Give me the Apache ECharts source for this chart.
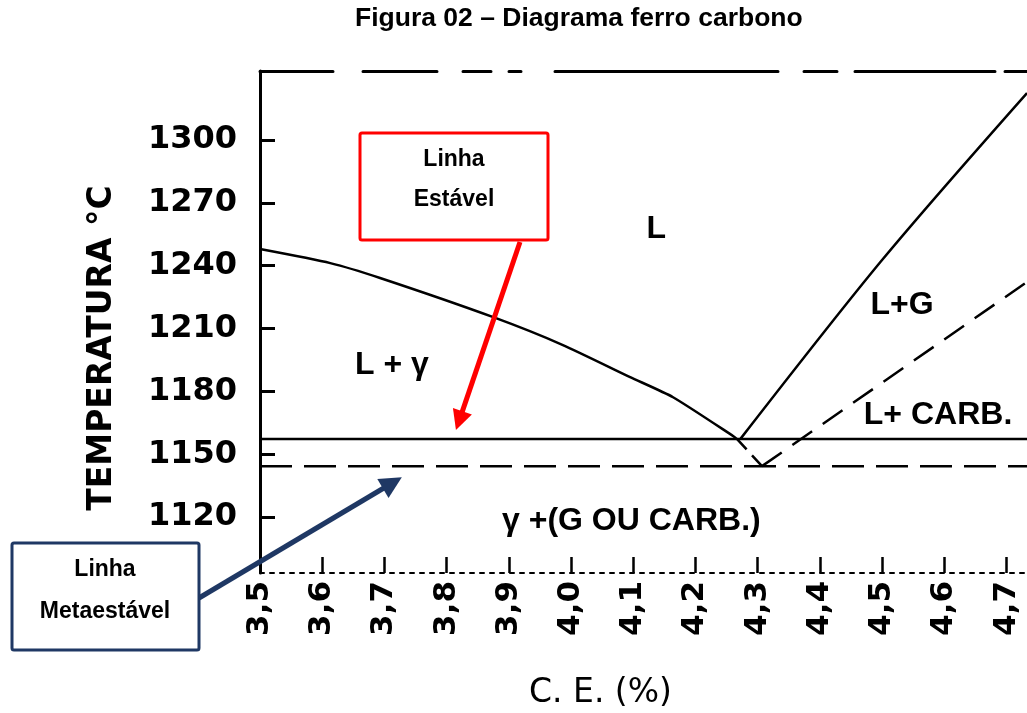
<!DOCTYPE html>
<html>
<head>
<meta charset="utf-8">
<script src="https://cdn.jsdelivr.net/npm/echarts@6/dist/echarts.min.js"></script>
<style>
html,body{margin:0;padding:0;background:#ffffff;}
#chart{width:1027px;height:713px;}
</style>
</head>
<body>
<div id="chart"></div>
<script>
// ---------- data ----------
const ceTicks = [3.5, 3.6, 3.7, 3.8, 3.9, 4.0, 4.1, 4.2, 4.3, 4.4, 4.5, 4.6, 4.7];
const tempTicks = [1120, 1150, 1180, 1210, 1240, 1270, 1300];
const ceRange = [3.5, 4.733];
const tempRange = [1093.3, 1332.9];

const stableEutecticT = 1157.2;      // Linha estável
const metastableEutecticT = 1144.3;  // Linha metaestável

const austeniteLiquidus = [
  [3.500, 1247.9], [3.613, 1241.2], [3.693, 1234.1], [3.875, 1215.4],
  [3.987, 1202.1], [4.095, 1186.8], [4.164, 1177.2], [4.261, 1158.6], [4.267, 1157.2]
];
const graphiteLiquidus = [[4.272, 1157.2], [4.500, 1242.7], [4.733, 1322.4]];
const metastableLiquidusExt = [[4.267, 1157.2], [4.307, 1144.3]];
const cementiteLiquidus = [[4.307, 1144.3], [4.733, 1232.2]];

const regionNames = ['L', 'L + γ', 'L+G', 'L+ CARB.', 'γ +(G OU CARB.)'];
const regionCE = [4.137, 3.712, 4.532, 4.590, 4.097];
const regionT = [1257.5, 1192.5, 1221.2, 1168.7, 1118.1];

const stableArrowTarget = [3.815, 1161.5];
const metastableArrowTarget = [3.728, 1139.0];

// ---------- chart ----------
const chart = echarts.init(document.getElementById('chart'), null, {renderer: 'canvas'});

const stableLine = [[ceRange[0], stableEutecticT], [ceRange[1], stableEutecticT]];
const metastableLine = [[ceRange[0], metastableEutecticT], [ceRange[1], metastableEutecticT]];
const regionData = regionNames.map((n, i) => ({name: n, value: [regionCE[i], regionT[i]]}));

const ink = '#000000';
const solid = {color: ink, width: 2.5, type: 'solid'};

const option = {
  animation: false,
  backgroundColor: '#ffffff',
  textStyle: {fontFamily: 'DejaVu Sans', color: ink},
  title: {
    text: 'Figura 02 – Diagrama ferro carbono',
    left: 355,
    top: 5,
    padding: 0,
    textStyle: {fontFamily: 'Liberation Sans', fontWeight: 'bold', fontSize: 26.5, color: ink}
  },
  grid: {left: 260, right: 0, top: 71, bottom: 140, containLabel: false, outerBoundsMode: 'none'},
  xAxis: [{
    type: 'value',
    position: 'bottom',
    min: ceRange[0], max: ceRange[1],
    name: 'C. E. (%)',
    nameLocation: 'middle',
    nameGap: 104,
    nameTextStyle: {fontFamily: 'DejaVu Sans', fontSize: 33, color: ink, padding: [0, 86, 0, 0]},
    axisLine: {show: true, lineStyle: {color: ink, width: 2, type: [4, 6]}},
    axisTick: {show: true, inside: true, length: 16, lineStyle: {color: ink, width: 2.5}, customValues: ceTicks},
    axisLabel: {
      show: true, rotate: 90, margin: 8, customValues: ceTicks,
      fontFamily: 'DejaVu Sans', fontWeight: 'bold', fontSize: 31, color: ink,
      formatter: v => Number(v).toFixed(1).replace('.', ',')
    },
    splitLine: {show: false}
  }, {
    type: 'value',
    position: 'top',
    min: ceRange[0], max: ceRange[1],
    axisLine: {show: true, lineStyle: {color: ink, width: 3, type: [73, 30, 74, 26, 28, 18, 12, 34, 223, 26, 33, 18, 140, 10]}},
    axisTick: {show: false},
    axisLabel: {show: false},
    splitLine: {show: false}
  }],
  yAxis: {
    type: 'value',
    position: 'left',
    min: tempRange[0], max: tempRange[1],
    name: 'TEMPERATURA °C',
    nameLocation: 'middle',
    nameRotate: 90,
    nameGap: 141,
    nameTextStyle: {fontFamily: 'DejaVu Sans', fontWeight: 'bold', fontSize: 33, color: ink, padding: [0, 52, 0, 0]},
    axisLine: {show: true, lineStyle: {color: ink, width: 3}},
    axisTick: {show: true, inside: true, length: 15, lineStyle: {color: ink, width: 3}, customValues: tempTicks},
    axisLabel: {
      show: true, margin: 23, customValues: tempTicks,
      fontFamily: 'DejaVu Sans', fontWeight: 'bold', fontSize: 32, color: ink,
      formatter: v => String(Math.round(v))
    },
    splitLine: {show: false}
  },
  series: [
    {name: 'Linha estável', type: 'line', data: stableLine, symbol: 'none', lineStyle: solid, silent: true},
    {name: 'Linha metaestável', type: 'line', data: metastableLine, symbol: 'none',
      lineStyle: {color: ink, width: 2.5, type: [32, 12]}, silent: true},
    {name: 'Liquidus austenita', type: 'line', data: austeniteLiquidus, symbol: 'none', smooth: 0.2, lineStyle: solid, silent: true},
    {name: 'Liquidus grafita', type: 'line', data: graphiteLiquidus, symbol: 'none', smooth: 0.3, lineStyle: solid, silent: true},
    {name: 'Liquidus metaestável', type: 'line', data: metastableLiquidusExt, symbol: 'none',
      lineStyle: {color: ink, width: 2.5, type: [14, 8]}, silent: true},
    {name: 'Liquidus carbonetos', type: 'line', data: cementiteLiquidus, symbol: 'none',
      lineStyle: {color: ink, width: 2.5, type: [24, 13]}, silent: true},
    {name: 'Regiões', type: 'custom', data: regionData, silent: true, clip: false,
      renderItem: function (params, api) {
        const p = api.coord([api.value(0), api.value(1)]);
        return {
          type: 'text', x: p[0], y: p[1],
          style: {text: regionNames[params.dataIndex], fill: '#000000', opacity: 1,
            font: 'bold 32px "Liberation Sans", Arial, sans-serif',
            textAlign: 'center', textVerticalAlign: 'middle'}
        };
      }}
  ]
};
chart.setOption(option);

// ---------- callouts ----------
function arrow(from, to, color, width, headLen, headHalf) {
  const dx = to[0] - from[0], dy = to[1] - from[1];
  const len = Math.sqrt(dx * dx + dy * dy);
  const ux = dx / len, uy = dy / len;
  const bx = to[0] - ux * headLen, by = to[1] - uy * headLen;
  const px = -uy, py = ux;
  return [
    {type: 'line', z: 100, shape: {x1: from[0], y1: from[1], x2: bx + ux * 2, y2: by + uy * 2},
      style: {stroke: color, lineWidth: width}},
    {type: 'polygon', z: 101, shape: {points: [[to[0], to[1]], [bx + px * headHalf, by + py * headHalf], [bx - px * headHalf, by - py * headHalf]]},
      style: {fill: color}}
  ];
}
function box(x, y, w, h, color, lines, cx, ys) {
  const els = [{type: 'rect', z: 100, shape: {x: x, y: y, width: w, height: h, r: 2},
    style: {fill: '#ffffff', stroke: color, lineWidth: 3}}];
  lines.forEach((t, i) => els.push({type: 'text', z: 102, x: cx, y: ys[i],
    style: {text: t, fill: '#000000', font: 'bold 23px "Liberation Sans", Arial, sans-serif', textAlign: 'center', textVerticalAlign: 'middle'}}));
  return els;
}
const red = '#ff0000', navy = '#1f3864';
const redTip = chart.convertToPixel({xAxisIndex: 0, yAxisIndex: 0}, stableArrowTarget);
const navyTip = chart.convertToPixel({xAxisIndex: 0, yAxisIndex: 0}, metastableArrowTarget);
const graphics = []
  .concat(arrow([520, 242], redTip, red, 5, 20, 10))
  .concat(arrow([199, 598], navyTip, navy, 5, 22, 11))
  .concat(box(360, 133, 188, 107, red, ['Linha', 'Estável'], 454, [160, 200]))
  .concat(box(12, 543, 187, 107, navy, ['Linha', 'Metaestável'], 105, [570, 612]));
chart.setOption({graphic: graphics});
</script>
</body>
</html>
